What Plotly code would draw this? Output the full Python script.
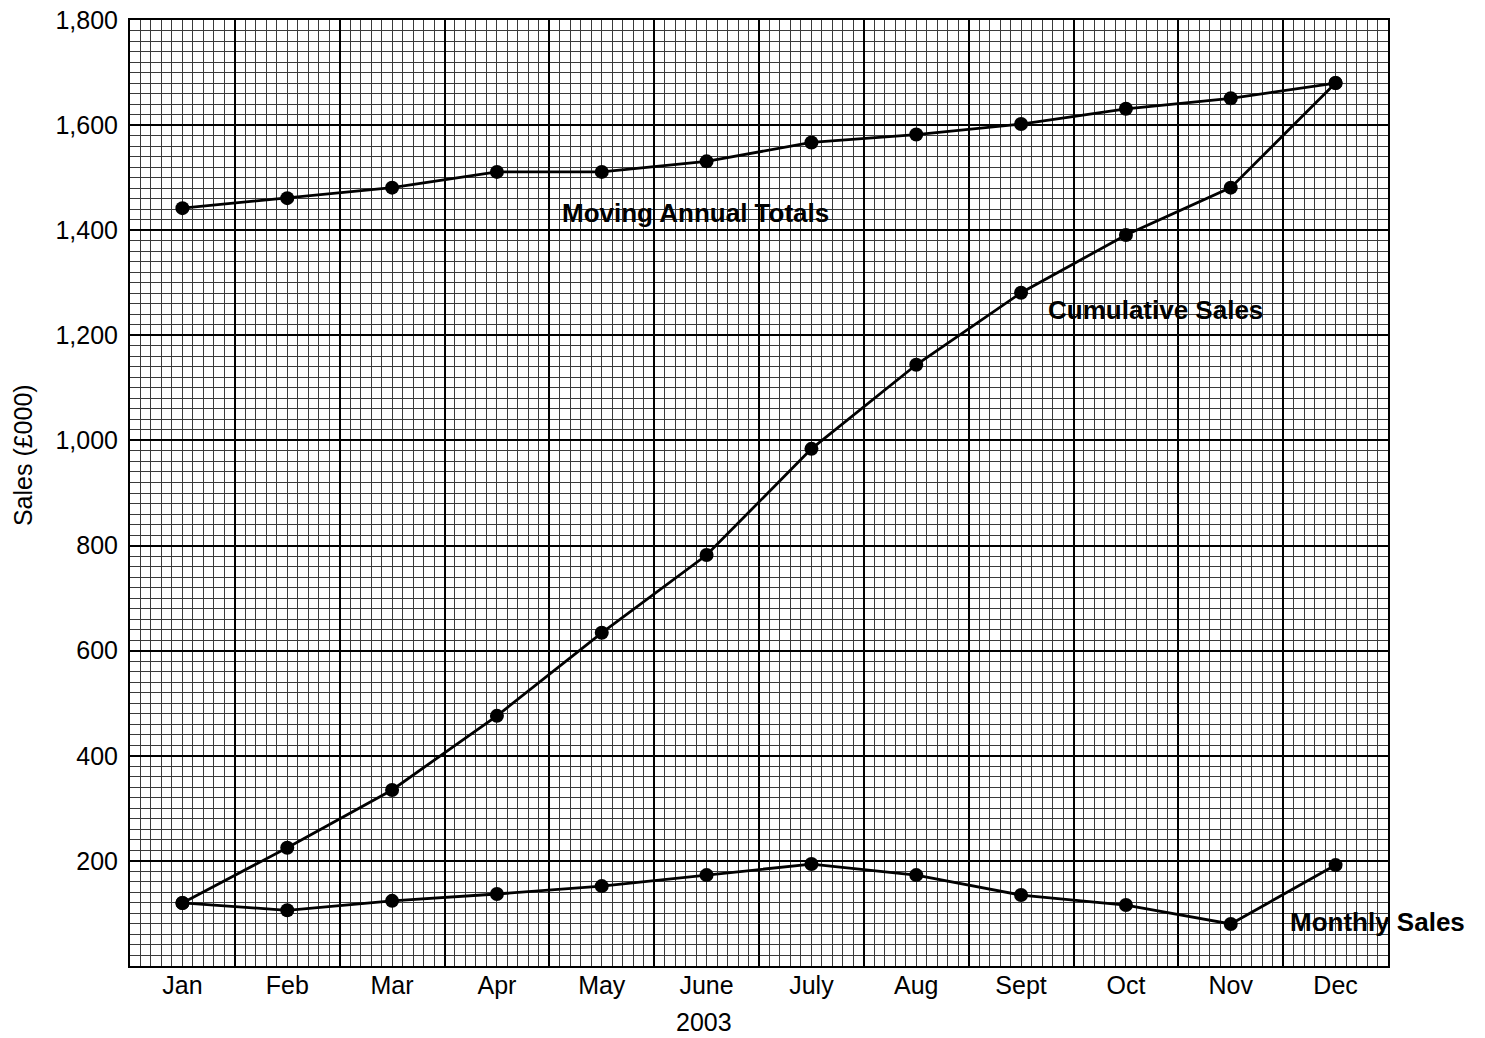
import plotly.graph_objects as go

months = ["Jan", "Feb", "Mar", "Apr", "May", "June", "July", "Aug", "Sept", "Oct", "Nov", "Dec"]
monthly_sales = [120, 106, 124, 137, 152, 173, 194, 173, 135, 116, 80, 192]
cumulative_sales = [120, 225, 335, 476, 634, 782, 984, 1144, 1281, 1391, 1481, 1680]
moving_annual_totals = [1442, 1461, 1481, 1511, 1511, 1531, 1567, 1582, 1602, 1631, 1651, 1680]
y_ticks = [200, 400, 600, 800, 1000, 1200, 1400, 1600, 1800]

idx = list(range(len(months)))
FONT = "Liberation Sans, Arial, sans-serif"

fig = go.Figure()
line = dict(color="black", width=2.8)
marker = dict(color="black", size=14)
for name, vals in [("Moving Annual Totals", moving_annual_totals),
                   ("Cumulative Sales", cumulative_sales),
                   ("Monthly Sales", monthly_sales)]:
    fig.add_trace(go.Scatter(x=idx, y=vals, mode="lines+markers", name=name,
                             line=line, marker=marker, showlegend=False))

# invisible trace to carry the grid axis
fig.add_trace(go.Scatter(x=[-0.5, 11.5], y=[0, 0], xaxis="x2", mode="markers",
                         marker=dict(opacity=0), showlegend=False, hoverinfo="skip"))

fig.update_layout(
    width=1485, height=1038,
    margin=dict(l=130, r=97, t=20, b=72, autoexpand=False),
    paper_bgcolor="white", plot_bgcolor="white",
    font=dict(family=FONT, size=25, color="black"),
    xaxis=dict(range=[-0.5, 11.5], tickvals=idx, ticktext=months,
               showgrid=False, zeroline=False, showline=True, linecolor="black",
               linewidth=2, mirror=True, ticks="", ticklen=0, automargin=False,
               ticklabelstandoff=-4, ticklabeloverflow="allow"),
    xaxis2=dict(range=[-0.5, 11.5], overlaying="x", side="bottom",
                showticklabels=False, ticks="", tick0=-0.5, dtick=1, automargin=False,
                showgrid=True, gridcolor="black", gridwidth=1.5, zeroline=False,
                minor=dict(tick0=-0.5, dtick=0.1, showgrid=True,
                           gridcolor="#3a3a3a", gridwidth=1)),
    yaxis=dict(range=[0, 1800], tickvals=y_ticks, tickformat=",", automargin=False,
               showgrid=True, gridcolor="black", gridwidth=1.5, zeroline=False,
               showline=True, linecolor="black", linewidth=2, mirror=True,
               ticks="", ticklabelstandoff=5, ticklabeloverflow="allow",
               minor=dict(tick0=0, dtick=20, showgrid=True,
                          gridcolor="#3a3a3a", gridwidth=1)),
    annotations=[
        dict(x=4.89, y=1433, xref="x", yref="y", text="<b>Moving Annual Totals</b>",
             showarrow=False, font=dict(size=26, color="black")),
        dict(x=9.28, y=1248, xref="x", yref="y", text="<b>Cumulative Sales</b>",
             showarrow=False, font=dict(size=26, color="black")),
        dict(x=11.4, y=84, xref="x", yref="y", text="<b>Monthly Sales</b>",
             showarrow=False, font=dict(size=26, color="black")),
        # axis titles (placed off-centre as in the reference)
        dict(x=0.4563, y=-0.0592, xref="paper", yref="paper", text="2003",
             showarrow=False, font=dict(size=25, color="black"),
             xanchor="center", yanchor="middle"),
        dict(x=-0.0851, y=0.540, xref="paper", yref="paper", text="Sales (£000)",
             showarrow=False, textangle=-90, font=dict(size=25, color="black"),
             xanchor="center", yanchor="middle"),
    ],
)

fig.write_html("out.html", config={"displayModeBar": False},
               post_script="document.body.style.margin='0';document.body.style.overflow='hidden';")
